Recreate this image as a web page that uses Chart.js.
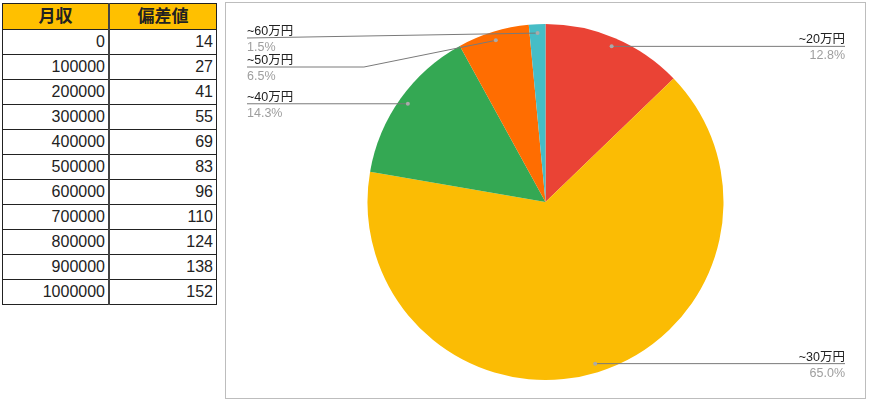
<!DOCTYPE html>
<html>
<head>
<meta charset="utf-8">
<script src="https://cdn.jsdelivr.net/npm/chart.js@4"></script>
<style>
	body { margin: 0; background: #fff; font-family: "Liberation Sans", Arial, "Noto Sans CJK JP", sans-serif; }
	#sheet { position: absolute; left: 2px; top: 3px; border-collapse: collapse; }
	#sheet td, #sheet th { border: 1px solid #222; height: 24px; padding: 0 3px; font-size: 16px; color: #222; line-height: 16px; }
	#sheet th { background: #ffc000; font-weight: bold; text-align: center; font-size: 17px; height: 25px; }
	#sheet td { text-align: right; }
	#sheet td:first-child, #sheet th:first-child { width: 99px; border-right: 2px solid #444; }
	#sheet td:last-child, #sheet th:last-child { width: 100px; }
	#box { position: absolute; left: 225px; top: 2px; width: 641px; height: 397px; box-sizing: border-box; border: 1px solid #bdbdbd; }
</style>
</head>
<body>
<table id="sheet"></table>
<div id="box"><canvas id="pieChart"></canvas></div>
<script>
const tableHeaders = ['月収', '偏差値'];
const monthlyIncome = [0, 100000, 200000, 300000, 400000, 500000, 600000, 700000, 800000, 900000, 1000000];
const deviation = [14, 27, 41, 55, 69, 83, 96, 110, 124, 138, 152];

const incomeBands = ['~20万円', '~30万円', '~40万円', '~50万円', '~60万円'];
const bandShares = [12.8, 65.0, 14.3, 6.5, 1.5];

const sliceColors = ['#ea4335', '#fbbc04', '#34a853', '#ff6d01', '#46bdc6'];

const buildTable = () => {
	const table = document.getElementById('sheet');
	let html = '<tr>' + tableHeaders.map(h => '<th>' + h + '</th>').join('') + '</tr>';
	for (let i = 0; i < monthlyIncome.length; i++) {
		html += '<tr><td>' + monthlyIncome[i] + '</td><td>' + deviation[i] + '</td></tr>';
	}
	table.innerHTML = html;
};

// leader-line labels like the spreadsheet pie
const leaderLabels = {
	id: 'leaderLabels',
	afterDraw(chart) {
		const ctx = chart.ctx;
		const arcs = chart.getDatasetMeta(0).data;
		const width = chart.width;
		const items = arcs.map((arc, i) => {
			const p = arc.getProps(['x', 'y', 'startAngle', 'endAngle', 'outerRadius'], true);
			const mid = (p.startAngle + p.endAngle) / 2;
			const r = p.outerRadius * 0.95;
			return {
				i: i,
				dx: p.x + Math.cos(mid) * r,
				dy: p.y + Math.sin(mid) * r,
				right: Math.cos(mid) >= 0,
			};
		});
		[true, false].forEach(side => {
			const group = items.filter(it => it.right === side).sort((a, b) => a.dy - b.dy);
			let prev = -Infinity;
			group.forEach(it => {
				it.ly = Math.max(it.dy, prev + 29, 35);
				prev = it.ly;
			});
		});
		ctx.save();
		items.forEach(it => {
			const tx = it.right ? width - 20 : 21;
			ctx.strokeStyle = '#7a7a7a';
			ctx.lineWidth = 1;
			ctx.beginPath();
			ctx.moveTo(tx, it.ly);
			if (Math.abs(it.ly - it.dy) > 8) {
				ctx.lineTo(tx + (it.dx - tx) * 0.47, it.ly);
			}
			ctx.lineTo(it.dx, it.dy);
			ctx.stroke();
			ctx.fillStyle = '#aaaaaa';
			ctx.beginPath();
			ctx.arc(it.dx, it.dy, 2, 0, Math.PI * 2);
			ctx.fill();
			ctx.textAlign = it.right ? 'right' : 'left';
			ctx.textBaseline = 'alphabetic';
			ctx.font = '12.5px "Liberation Sans", Arial, "Noto Sans CJK JP", sans-serif';
			ctx.fillStyle = '#222';
			ctx.fillText(incomeBands[it.i], tx, it.ly - 3);
			ctx.fillStyle = '#9e9e9e';
			ctx.fillText(bandShares[it.i].toFixed(1) + '%', tx, it.ly + 13);
		});
		ctx.restore();
	}
};

const pieData = {
	type: 'pie',
	data: {
		labels: incomeBands,
		datasets: [
			{
				data: bandShares,
				backgroundColor: sliceColors,
				borderWidth: 0,
			},
		],
	},
	options: {
		responsive: true,
		maintainAspectRatio: false,
		animation: false,
		layout: {
			padding: { top: 21, bottom: 18 },
		},
		plugins: {
			legend: {
				display: false,
			},
			tooltip: {
				enabled: false,
			},
		},
	},
	plugins: [leaderLabels],
};

(() => {
	buildTable();
	new Chart(document.getElementById('pieChart'), pieData);
})();
</script>
</body>
</html>
